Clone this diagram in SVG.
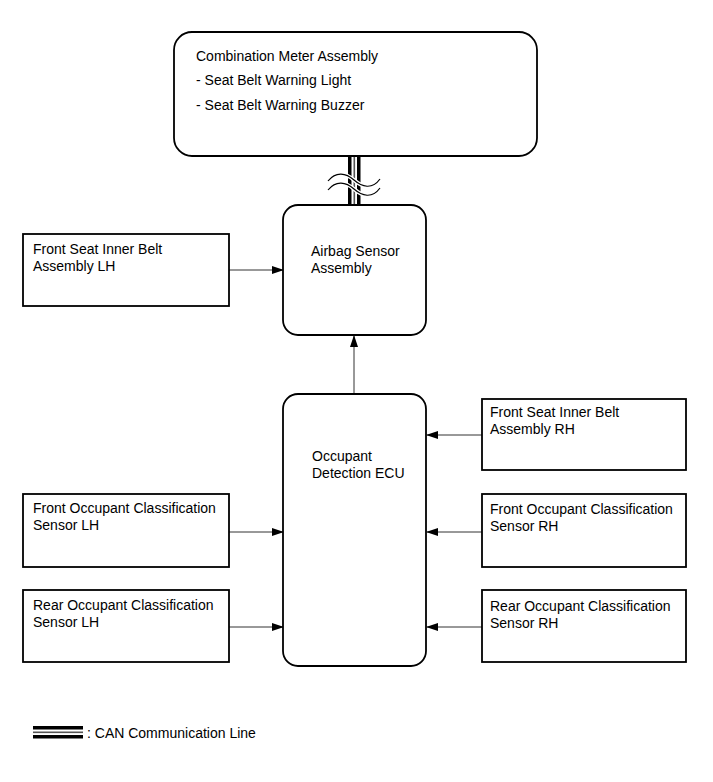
<svg xmlns="http://www.w3.org/2000/svg" width="713" height="782" viewBox="0 0 713 782">
<defs>
<style>
text{font-family:"Liberation Sans",Arial,sans-serif;font-size:14px;fill:#000}
.box{fill:#fff;stroke:#000;stroke-width:1.8}
.conn{stroke:#333;stroke-width:1;fill:none}
</style>
<marker id="ah" markerWidth="12" markerHeight="8" refX="11" refY="4" orient="auto" markerUnits="userSpaceOnUse">
<path d="M0,0 L12,4 L0,8 Z" fill="#000"/>
</marker>
</defs>
<rect width="713" height="782" fill="#fff"/>
<g id="connectors">
<g id="can">
<rect x="348" y="156" width="3.5" height="49" fill="#000"/>
<rect x="353.5" y="156" width="1.6" height="49" fill="#555"/>
<rect x="357" y="156" width="3.5" height="49" fill="#000"/>
<path d="M328,181 C336,171 346,173 354,180 S372,190 380,179" fill="none" stroke="#fff" stroke-width="4"/>
<path d="M328,190 C336,180 346,182 354,189 S372,199 380,188" fill="none" stroke="#fff" stroke-width="4"/>
<path d="M328,181 C336,171 346,173 354,180 S372,190 380,179" fill="none" stroke="#000" stroke-width="1.2"/>
<path d="M328,190 C336,180 346,182 354,189 S372,199 380,188" fill="none" stroke="#000" stroke-width="1.2"/>
</g>
<line class="conn" x1="229" y1="270" x2="283" y2="270" marker-end="url(#ah)"/>
<line class="conn" x1="354" y1="394" x2="354" y2="336" marker-end="url(#ah)"/>
<line class="conn" x1="482" y1="435" x2="427" y2="435" marker-end="url(#ah)"/>
<line class="conn" x1="229" y1="532" x2="283" y2="532" marker-end="url(#ah)"/>
<line class="conn" x1="482" y1="532" x2="427" y2="532" marker-end="url(#ah)"/>
<line class="conn" x1="229" y1="627" x2="283" y2="627" marker-end="url(#ah)"/>
<line class="conn" x1="482" y1="627" x2="427" y2="627" marker-end="url(#ah)"/>
</g>
<g id="combination-meter">
<rect class="box" x="174" y="32" width="363" height="124" rx="18"/>
<text x="196" y="61">Combination Meter Assembly</text>
<text x="196" y="85">- Seat Belt Warning Light</text>
<text x="196" y="110">- Seat Belt Warning Buzzer</text>
</g>
<g id="airbag-sensor">
<rect class="box" x="283" y="205" width="143" height="130" rx="15"/>
<text x="311" y="256">Airbag Sensor</text>
<text x="311" y="273">Assembly</text>
</g>
<g id="occupant-ecu">
<rect class="box" x="283" y="394" width="143" height="272" rx="15"/>
<text x="312" y="461">Occupant</text>
<text x="312" y="478">Detection ECU</text>
</g>
<g id="inner-belt-lh">
<rect class="box" x="23" y="234" width="206" height="72"/>
<text x="33" y="254">Front Seat Inner Belt</text>
<text x="33" y="271">Assembly LH</text>
</g>
<g id="inner-belt-rh">
<rect class="box" x="482" y="399" width="204" height="71"/>
<text x="490" y="417">Front Seat Inner Belt</text>
<text x="490" y="434">Assembly RH</text>
</g>
<g id="front-ocs-lh">
<rect class="box" x="23" y="494" width="206" height="73"/>
<text x="33" y="513">Front Occupant Classification</text>
<text x="33" y="530">Sensor LH</text>
</g>
<g id="front-ocs-rh">
<rect class="box" x="482" y="494" width="204" height="73"/>
<text x="490" y="514">Front Occupant Classification</text>
<text x="490" y="531">Sensor RH</text>
</g>
<g id="rear-ocs-lh">
<rect class="box" x="23" y="590" width="206" height="72"/>
<text x="33" y="610">Rear Occupant Classification</text>
<text x="33" y="627">Sensor LH</text>
</g>
<g id="rear-ocs-rh">
<rect class="box" x="482" y="590" width="204" height="72"/>
<text x="490" y="611">Rear Occupant Classification</text>
<text x="490" y="628">Sensor RH</text>
</g>
<g id="legend">
<rect x="33" y="726" width="50" height="3.5" fill="#000"/>
<rect x="33" y="731.5" width="50" height="1.6" fill="#555"/>
<rect x="33" y="735" width="50" height="3.5" fill="#000"/>
<text x="87" y="738">: CAN Communication Line</text>
</g>
</svg>
